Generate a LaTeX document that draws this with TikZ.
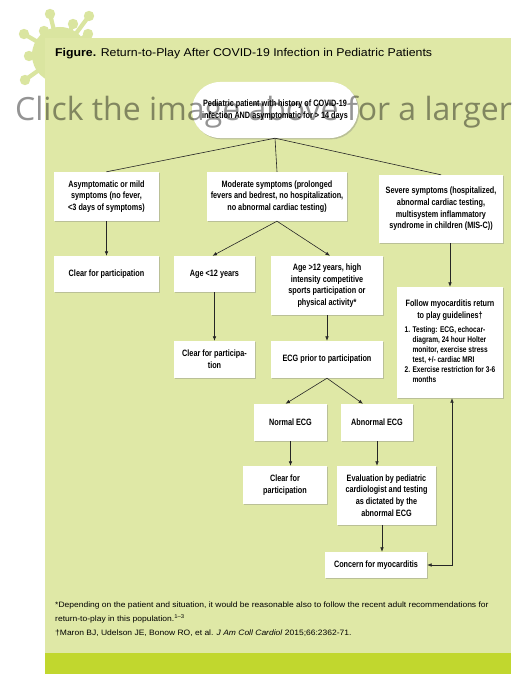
\documentclass[tikz,border=0pt]{standalone}
\usepackage{fontspec}
\setmainfont{Liberation Sans}
\newfontfamily\condfont[FakeStretch=0.79]{Liberation Sans}
\newfontfamily\widefont[FakeStretch=1.09]{Liberation Sans}
\newfontfamily\markfont{Open Sans}
\usepackage{xcolor}
\usetikzlibrary{arrows.meta,shadows}

\definecolor{panelgreen}{HTML}{DFE8A6}
\definecolor{bandgreen}{HTML}{C1D72E}
\definecolor{virusgreen}{HTML}{DAE5A0}

\begin{document}
\begin{tikzpicture}[x=1pt,y=-1pt,>={Latex[length=4.5pt,width=3.6pt]},
    font=\condfont\bfseries\fontsize{9.2}{11.7}\selectfont,
    box/.style={fill=white,align=center,inner sep=2pt,
        drop shadow={shadow xshift=1.3pt,shadow yshift=-1.3pt,opacity=0.38}},
    plain/.style={inner sep=0pt,anchor=base west},
    link/.style={draw=black!85,line width=0.6pt},
    arr/.style={link,->}]

\useasboundingbox (0,0) rectangle (527,674);
\fill[white] (0,0) rectangle (527,674);

% ---------- background ----------
\foreach \kx/\ky in {50/14,89/16,24/34,44/31,73/24,88/34,29/56,25/80}{
    \draw[virusgreen,line width=4.2pt] (60,55) -- (\kx,\ky);
    \fill[virusgreen] (\kx,\ky) circle (5.2pt);
}
\fill[virusgreen] (60,55) circle (28pt);

\fill[panelgreen] (45,38) rectangle (511,674);
\fill[bandgreen] (45,653) rectangle (511,674);

\node[plain,font=\widefont\fontsize{11.3}{13}\selectfont] (title) at (55,57)
    {\textbf{Figure.} Return-to-Play After COVID-19 Infection in Pediatric Patients};

% ---------- boxes ----------
\node[box,rounded corners=28pt,minimum width=166,minimum height=56] (patient) at (275,110)
    {Pediatric patient with history of COVID-19\\infection AND asymptomatic for > 14 days};

\node[box,minimum width=105,minimum height=49] (asym) at (106.5,196.5)
    {Asymptomatic or mild\\symptoms (no fever,\\<3 days of symptoms)};
\node[box,minimum width=140,minimum height=49] (moder) at (277,196.5)
    {Moderate symptoms (prolonged\\fevers and bedrest, no hospitalization,\\no abnormal cardiac testing)};
\node[box,minimum width=124,minimum height=68] (severe) at (441,209)
    {Severe symptoms (hospitalized,\\abnormal cardiac testing,\\multisystem inflammatory\\syndrome in children (MIS-C))};

\node[box,minimum width=105,minimum height=36] (clear1) at (106.5,274) {Clear for participation};
\node[box,minimum width=81,minimum height=36] (agelow) at (214.5,274) {Age <12 years};
\node[box,minimum width=112,minimum height=59] (agehigh) at (327,285.5)
    {Age >12 years, high\\intensity competitive\\sports participation or\\physical activity*};

\node[box,minimum width=106,minimum height=111] (follow) at (450,342.5)
    {Follow myocarditis return\\to play guidelines†\\[4pt]%
    {\fontsize{8.3}{10}\selectfont
    \begin{tabular}{@{}l@{\hspace{2.5pt}}l@{}}
    1. & Testing: ECG, echocar-\\
       & diagram, 24 hour Holter\\
       & monitor, exercise stress\\
       & test, +/- cardiac MRI\\
    2. & Exercise restriction for 3-6\\
       & months
    \end{tabular}}};

\node[box,minimum width=81,minimum height=37] (clear2) at (214.5,359.5) {Clear for participa-\\tion};
\node[box,minimum width=112,minimum height=37] (ecg) at (327,359.5) {ECG prior to participation};

\node[box,minimum width=73,minimum height=37] (normal) at (290.5,422.5) {Normal ECG};
\node[box,minimum width=72,minimum height=37] (abnormal) at (377,422.5) {Abnormal ECG};

\node[box,minimum width=84,minimum height=38] (clear3) at (285,485) {Clear for\\participation};
\node[box,minimum width=99,minimum height=59] (eval) at (386.5,495.5)
    {Evaluation by pediatric\\cardiologist and testing\\as dictated by the\\abnormal ECG};

\node[box,minimum width=102,minimum height=26] (concern) at (376,565) {Concern for myocarditis};

% ---------- connectors ----------
\draw[link] (patient.south) -- (asym.north);
\draw[link] (patient.south) -- (moder.north);
\draw[link] (patient.south) -- (severe.north);

\draw[arr] (asym.south) -- (clear1.north);
\draw[arr] (moder.south) -- ([xshift=-2pt]agelow.north);
\draw[arr] (moder.south) -- ([xshift=3pt]agehigh.north);
\draw[arr] (follow.north |- severe.south) -- (follow.north);

\draw[arr] (agelow.south) -- (clear2.north);
\draw[arr] (agehigh.south) -- (ecg.north);

\draw[arr] (ecg.south) -- ([xshift=-5pt]normal.north);
\draw[arr] (ecg.south) -- ([xshift=-14pt]abnormal.north);

\draw[arr] (normal.south) -- (normal.south |- clear3.north);
\draw[arr] (abnormal.south) -- (abnormal.south |- eval.north);
\draw[arr] ([xshift=-4.5pt]eval.south) -- ([xshift=-4.5pt]eval.south |- concern.north);
\draw[link,<->] ([xshift=2pt]follow.south) |- (concern.east);

% ---------- notes ----------
\node[plain,font=\widefont\fontsize{7.8}{9}\selectfont] (note1) at (55,607)
    {*Depending on the patient and situation, it would be reasonable also to follow the recent adult recommendations for};
\node[plain,font=\widefont\fontsize{7.8}{9}\selectfont] (note2) at (55,621)
    {return-to-play in this population.\textsuperscript{1–3}};
\node[plain,font=\widefont\fontsize{7.8}{9}\selectfont] (note3) at (55,635)
    {†Maron BJ, Udelson JE, Bonow RO, et al. \textit{J Am Coll Cardiol} 2015;66:2362-71.};

% ---------- overlay ----------
\node[plain,font=\markfont\fontsize{32}{32}\selectfont,text=black,text opacity=0.42] (banner) at (15,121)
    {Click the image above for a larger};

\end{tikzpicture}
\end{document}
